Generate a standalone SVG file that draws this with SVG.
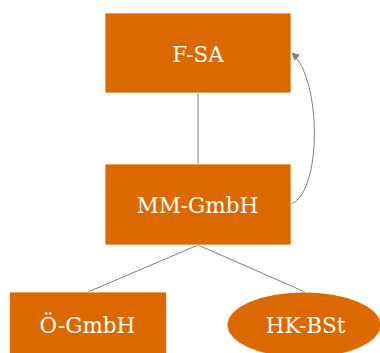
<svg xmlns="http://www.w3.org/2000/svg" width="380" height="353" viewBox="0 0 380 353">
  <style>
    .box { fill: #dc6900; stroke: #ffffff; stroke-width: 0.75; }
    .label { font-family: "DejaVu Serif", "Liberation Serif", serif; font-size: 21.5px; fill: #ffffff; text-anchor: middle; }
    .link { fill: none; stroke: #808080; stroke-width: 1; }
  </style>
  <defs>
    <marker id="arrow" viewBox="0 0 10 10" refX="9" refY="5" markerWidth="8" markerHeight="8" markerUnits="userSpaceOnUse" orient="auto">
      <path d="M0,0 L10,5 L0,10 Z" fill="#808080"/>
    </marker>
  </defs>
  <rect width="380" height="353" fill="#ffffff"/>

  <!-- connectors -->
  <g id="connectors">
    <line class="link" x1="198" y1="93" x2="198" y2="164"/>
    <line class="link" x1="198" y1="245" x2="88" y2="292"/>
    <line class="link" x1="198" y1="245" x2="305" y2="292"/>
    <path class="link" d="M291,204 C322,192 322,80 292,53" marker-end="url(#arrow)"/>
  </g>

  <g id="node-fsa">
    <rect class="box" x="105" y="13" width="186" height="80"/>
    <text class="label" x="198" y="61.5">F-SA</text>
  </g>

  <g id="node-mm-gmbh">
    <rect class="box" x="105" y="164" width="186" height="81"/>
    <text class="label" x="197.5" y="213">MM-GmbH</text>
  </g>

  <g id="node-oe-gmbh">
    <rect class="box" x="9.5" y="292" width="157" height="70"/>
    <text class="label" x="87.5" y="333">Ö-GmbH</text>
  </g>

  <g id="node-hk-bst">
    <ellipse class="box" cx="304" cy="325" rx="77" ry="33"/>
    <text class="label" x="305.5" y="333">HK-BSt</text>
  </g>
</svg>
